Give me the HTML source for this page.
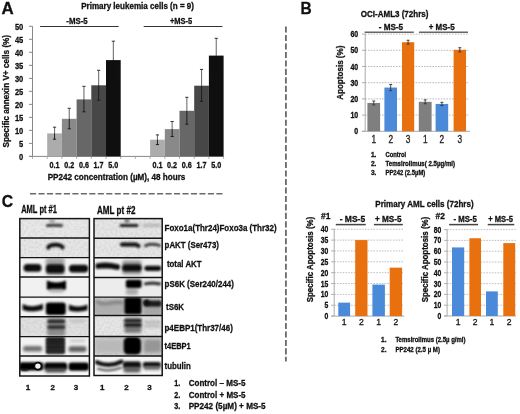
<!DOCTYPE html>
<html><head><meta charset="utf-8"><style>
html,body{margin:0;padding:0;background:#fff;}
svg{display:block;filter:blur(0.3px);}
text{font-family:"Liberation Sans", sans-serif;stroke:#111;stroke-width:0.3px;}
</style></head><body>
<svg width="520" height="414" viewBox="0 0 520 414">
<rect width="520" height="414" fill="#fff"/>
<text x="1.6" y="13.9" font-size="16.8" font-weight="bold" text-anchor="start" fill="#111" textLength="12.2" lengthAdjust="spacingAndGlyphs">A</text>
<text x="81.2" y="9.2" font-size="8.6" font-weight="bold" text-anchor="start" fill="#111" textLength="112.8" lengthAdjust="spacingAndGlyphs">Primary leukemia cells (n = 9)</text>
<text x="66.3" y="24.4" font-size="9.8" font-weight="bold" text-anchor="start" fill="#111" textLength="21.4" lengthAdjust="spacingAndGlyphs">-MS-5</text>
<text x="169.9" y="24.4" font-size="9.8" font-weight="bold" text-anchor="start" fill="#111" textLength="22.3" lengthAdjust="spacingAndGlyphs">+MS-5</text>
<line x1="40.10" y1="26.50" x2="118.60" y2="26.50" stroke="#333" stroke-width="1.1"/>
<line x1="143.70" y1="26.50" x2="222.40" y2="26.50" stroke="#333" stroke-width="1.1"/>
<line x1="32.50" y1="26.30" x2="32.50" y2="156.40" stroke="#888" stroke-width="1"/>
<line x1="29.00" y1="156.40" x2="32.50" y2="156.40" stroke="#888" stroke-width="1"/>
<text x="23.3" y="159.6" font-size="9.4" font-weight="bold" text-anchor="end" fill="#111" textLength="4.2" lengthAdjust="spacingAndGlyphs">0</text>
<line x1="29.00" y1="143.39" x2="32.50" y2="143.39" stroke="#888" stroke-width="1"/>
<text x="23.3" y="146.6" font-size="9.4" font-weight="bold" text-anchor="end" fill="#111" textLength="4.2" lengthAdjust="spacingAndGlyphs">5</text>
<line x1="29.00" y1="130.38" x2="32.50" y2="130.38" stroke="#888" stroke-width="1"/>
<text x="23.3" y="133.6" font-size="9.4" font-weight="bold" text-anchor="end" fill="#111" textLength="8.4" lengthAdjust="spacingAndGlyphs">10</text>
<line x1="29.00" y1="117.37" x2="32.50" y2="117.37" stroke="#888" stroke-width="1"/>
<text x="23.3" y="120.6" font-size="9.4" font-weight="bold" text-anchor="end" fill="#111" textLength="8.4" lengthAdjust="spacingAndGlyphs">15</text>
<line x1="29.00" y1="104.36" x2="32.50" y2="104.36" stroke="#888" stroke-width="1"/>
<text x="23.3" y="107.6" font-size="9.4" font-weight="bold" text-anchor="end" fill="#111" textLength="8.4" lengthAdjust="spacingAndGlyphs">20</text>
<line x1="29.00" y1="91.35" x2="32.50" y2="91.35" stroke="#888" stroke-width="1"/>
<text x="23.3" y="94.6" font-size="9.4" font-weight="bold" text-anchor="end" fill="#111" textLength="8.4" lengthAdjust="spacingAndGlyphs">25</text>
<line x1="29.00" y1="78.34" x2="32.50" y2="78.34" stroke="#888" stroke-width="1"/>
<text x="23.3" y="81.5" font-size="9.4" font-weight="bold" text-anchor="end" fill="#111" textLength="8.4" lengthAdjust="spacingAndGlyphs">30</text>
<line x1="29.00" y1="65.33" x2="32.50" y2="65.33" stroke="#888" stroke-width="1"/>
<text x="23.3" y="68.5" font-size="9.4" font-weight="bold" text-anchor="end" fill="#111" textLength="8.4" lengthAdjust="spacingAndGlyphs">35</text>
<line x1="29.00" y1="52.32" x2="32.50" y2="52.32" stroke="#888" stroke-width="1"/>
<text x="23.3" y="55.5" font-size="9.4" font-weight="bold" text-anchor="end" fill="#111" textLength="8.4" lengthAdjust="spacingAndGlyphs">40</text>
<line x1="29.00" y1="39.31" x2="32.50" y2="39.31" stroke="#888" stroke-width="1"/>
<text x="23.3" y="42.5" font-size="9.4" font-weight="bold" text-anchor="end" fill="#111" textLength="8.4" lengthAdjust="spacingAndGlyphs">45</text>
<line x1="29.00" y1="26.30" x2="32.50" y2="26.30" stroke="#888" stroke-width="1"/>
<text x="23.3" y="29.5" font-size="9.4" font-weight="bold" text-anchor="end" fill="#111" textLength="8.4" lengthAdjust="spacingAndGlyphs">50</text>
<line x1="29.00" y1="156.40" x2="223.60" y2="156.40" stroke="#888" stroke-width="1"/>
<line x1="32.50" y1="156.40" x2="32.50" y2="158.90" stroke="#999" stroke-width="0.8"/>
<line x1="47.20" y1="156.40" x2="47.20" y2="158.90" stroke="#999" stroke-width="0.8"/>
<line x1="61.90" y1="156.40" x2="61.90" y2="158.90" stroke="#999" stroke-width="0.8"/>
<line x1="76.60" y1="156.40" x2="76.60" y2="158.90" stroke="#999" stroke-width="0.8"/>
<line x1="91.30" y1="156.40" x2="91.30" y2="158.90" stroke="#999" stroke-width="0.8"/>
<line x1="106.00" y1="156.40" x2="106.00" y2="158.90" stroke="#999" stroke-width="0.8"/>
<line x1="120.70" y1="156.40" x2="120.70" y2="158.90" stroke="#999" stroke-width="0.8"/>
<line x1="135.40" y1="156.40" x2="135.40" y2="158.90" stroke="#999" stroke-width="0.8"/>
<line x1="150.10" y1="156.40" x2="150.10" y2="158.90" stroke="#999" stroke-width="0.8"/>
<line x1="164.80" y1="156.40" x2="164.80" y2="158.90" stroke="#999" stroke-width="0.8"/>
<line x1="179.50" y1="156.40" x2="179.50" y2="158.90" stroke="#999" stroke-width="0.8"/>
<line x1="194.20" y1="156.40" x2="194.20" y2="158.90" stroke="#999" stroke-width="0.8"/>
<line x1="208.90" y1="156.40" x2="208.90" y2="158.90" stroke="#999" stroke-width="0.8"/>
<line x1="223.60" y1="156.40" x2="223.60" y2="158.90" stroke="#999" stroke-width="0.8"/>
<rect x="47.20" y="133.40" width="14.70" height="23.00" fill="#acacac"/>
<rect x="61.90" y="118.80" width="14.70" height="37.60" fill="#898989"/>
<rect x="76.60" y="99.40" width="14.70" height="57.00" fill="#676767"/>
<rect x="91.30" y="85.30" width="14.70" height="71.10" fill="#474747"/>
<rect x="106.00" y="60.10" width="14.70" height="96.30" fill="#0f0f0f"/>
<line x1="54.55" y1="127.20" x2="54.55" y2="133.40" stroke="#707070" stroke-width="1.1"/>
<line x1="54.55" y1="133.40" x2="54.55" y2="139.20" stroke="#1e1e1e" stroke-width="1.0"/>
<line x1="52.95" y1="127.20" x2="56.15" y2="127.20" stroke="#333" stroke-width="1.0"/>
<line x1="52.95" y1="139.20" x2="56.15" y2="139.20" stroke="#1e1e1e" stroke-width="1.0"/>
<text x="54.6" y="167.6" font-size="8.3" font-weight="bold" text-anchor="middle" fill="#111" textLength="10.0" lengthAdjust="spacingAndGlyphs">0.1</text>
<line x1="69.25" y1="108.30" x2="69.25" y2="118.80" stroke="#707070" stroke-width="1.1"/>
<line x1="69.25" y1="118.80" x2="69.25" y2="128.80" stroke="#1e1e1e" stroke-width="1.0"/>
<line x1="67.65" y1="108.30" x2="70.85" y2="108.30" stroke="#333" stroke-width="1.0"/>
<line x1="67.65" y1="128.80" x2="70.85" y2="128.80" stroke="#1e1e1e" stroke-width="1.0"/>
<text x="69.2" y="167.6" font-size="8.3" font-weight="bold" text-anchor="middle" fill="#111" textLength="10.0" lengthAdjust="spacingAndGlyphs">0.2</text>
<line x1="83.95" y1="86.30" x2="83.95" y2="99.40" stroke="#707070" stroke-width="1.1"/>
<line x1="83.95" y1="99.40" x2="83.95" y2="111.80" stroke="#1e1e1e" stroke-width="1.0"/>
<line x1="82.35" y1="86.30" x2="85.55" y2="86.30" stroke="#333" stroke-width="1.0"/>
<line x1="82.35" y1="111.80" x2="85.55" y2="111.80" stroke="#1e1e1e" stroke-width="1.0"/>
<text x="83.9" y="167.6" font-size="8.3" font-weight="bold" text-anchor="middle" fill="#111" textLength="10.0" lengthAdjust="spacingAndGlyphs">0.6</text>
<line x1="98.65" y1="70.30" x2="98.65" y2="85.30" stroke="#707070" stroke-width="1.1"/>
<line x1="98.65" y1="85.30" x2="98.65" y2="100.30" stroke="#1e1e1e" stroke-width="1.0"/>
<line x1="97.05" y1="70.30" x2="100.25" y2="70.30" stroke="#333" stroke-width="1.0"/>
<line x1="97.05" y1="100.30" x2="100.25" y2="100.30" stroke="#1e1e1e" stroke-width="1.0"/>
<text x="98.6" y="167.6" font-size="8.3" font-weight="bold" text-anchor="middle" fill="#111" textLength="10.0" lengthAdjust="spacingAndGlyphs">1.7</text>
<line x1="113.35" y1="41.20" x2="113.35" y2="60.10" stroke="#707070" stroke-width="1.1"/>
<line x1="113.35" y1="60.10" x2="113.35" y2="79.00" stroke="#0f0f0f" stroke-width="1.0"/>
<line x1="111.75" y1="41.20" x2="114.95" y2="41.20" stroke="#333" stroke-width="1.0"/>
<line x1="111.75" y1="79.00" x2="114.95" y2="79.00" stroke="#0f0f0f" stroke-width="1.0"/>
<text x="113.3" y="167.6" font-size="8.3" font-weight="bold" text-anchor="middle" fill="#111" textLength="10.0" lengthAdjust="spacingAndGlyphs">5.0</text>
<rect x="150.10" y="139.70" width="14.70" height="16.70" fill="#acacac"/>
<rect x="164.80" y="129.10" width="14.70" height="27.30" fill="#898989"/>
<rect x="179.50" y="110.80" width="14.70" height="45.60" fill="#676767"/>
<rect x="194.20" y="85.70" width="14.70" height="70.70" fill="#474747"/>
<rect x="208.90" y="55.60" width="14.70" height="100.80" fill="#0f0f0f"/>
<line x1="157.45" y1="134.90" x2="157.45" y2="139.70" stroke="#707070" stroke-width="1.1"/>
<line x1="157.45" y1="139.70" x2="157.45" y2="144.60" stroke="#1e1e1e" stroke-width="1.0"/>
<line x1="155.85" y1="134.90" x2="159.05" y2="134.90" stroke="#333" stroke-width="1.0"/>
<line x1="155.85" y1="144.60" x2="159.05" y2="144.60" stroke="#1e1e1e" stroke-width="1.0"/>
<text x="157.4" y="167.6" font-size="8.3" font-weight="bold" text-anchor="middle" fill="#111" textLength="10.0" lengthAdjust="spacingAndGlyphs">0.1</text>
<line x1="172.15" y1="121.50" x2="172.15" y2="129.10" stroke="#707070" stroke-width="1.1"/>
<line x1="172.15" y1="129.10" x2="172.15" y2="136.50" stroke="#1e1e1e" stroke-width="1.0"/>
<line x1="170.55" y1="121.50" x2="173.75" y2="121.50" stroke="#333" stroke-width="1.0"/>
<line x1="170.55" y1="136.50" x2="173.75" y2="136.50" stroke="#1e1e1e" stroke-width="1.0"/>
<text x="172.1" y="167.6" font-size="8.3" font-weight="bold" text-anchor="middle" fill="#111" textLength="10.0" lengthAdjust="spacingAndGlyphs">0.2</text>
<line x1="186.85" y1="97.30" x2="186.85" y2="110.80" stroke="#707070" stroke-width="1.1"/>
<line x1="186.85" y1="110.80" x2="186.85" y2="124.20" stroke="#1e1e1e" stroke-width="1.0"/>
<line x1="185.25" y1="97.30" x2="188.45" y2="97.30" stroke="#333" stroke-width="1.0"/>
<line x1="185.25" y1="124.20" x2="188.45" y2="124.20" stroke="#1e1e1e" stroke-width="1.0"/>
<text x="186.8" y="167.6" font-size="8.3" font-weight="bold" text-anchor="middle" fill="#111" textLength="10.0" lengthAdjust="spacingAndGlyphs">0.6</text>
<line x1="201.55" y1="69.40" x2="201.55" y2="85.70" stroke="#707070" stroke-width="1.1"/>
<line x1="201.55" y1="85.70" x2="201.55" y2="101.30" stroke="#1e1e1e" stroke-width="1.0"/>
<line x1="199.95" y1="69.40" x2="203.15" y2="69.40" stroke="#333" stroke-width="1.0"/>
<line x1="199.95" y1="101.30" x2="203.15" y2="101.30" stroke="#1e1e1e" stroke-width="1.0"/>
<text x="201.5" y="167.6" font-size="8.3" font-weight="bold" text-anchor="middle" fill="#111" textLength="10.0" lengthAdjust="spacingAndGlyphs">1.7</text>
<line x1="216.25" y1="38.30" x2="216.25" y2="55.60" stroke="#707070" stroke-width="1.1"/>
<line x1="216.25" y1="55.60" x2="216.25" y2="72.90" stroke="#0f0f0f" stroke-width="1.0"/>
<line x1="214.65" y1="38.30" x2="217.85" y2="38.30" stroke="#333" stroke-width="1.0"/>
<line x1="214.65" y1="72.90" x2="217.85" y2="72.90" stroke="#0f0f0f" stroke-width="1.0"/>
<text x="216.2" y="167.6" font-size="8.3" font-weight="bold" text-anchor="middle" fill="#111" textLength="10.0" lengthAdjust="spacingAndGlyphs">5.0</text>
<text x="47.7" y="179.6" font-size="8.8" font-weight="bold" text-anchor="start" fill="#111" textLength="137.7" lengthAdjust="spacingAndGlyphs">PP242 concentration (µM), 48 hours</text>
<text transform="translate(9.3,147.4) rotate(-90)" x="0" y="0" font-size="9.6" font-weight="bold" fill="#111" textLength="112.5" lengthAdjust="spacingAndGlyphs">Specific  annexin V+ cells (%)</text>
<line x1="285.90" y1="26.50" x2="285.90" y2="361.50" stroke="#6a6a6a" stroke-width="1.8" stroke-dasharray="6.1 2.37"/>
<line x1="30.00" y1="193.80" x2="222.50" y2="193.80" stroke="#6a6a6a" stroke-width="1.5" stroke-dasharray="6.1 2.37"/>
<text x="300.6" y="14.0" font-size="17.4" font-weight="bold" text-anchor="start" fill="#111" textLength="11.2" lengthAdjust="spacingAndGlyphs">B</text>
<text x="360.8" y="17.0" font-size="8.3" font-weight="bold" text-anchor="start" fill="#111" textLength="67.6" lengthAdjust="spacingAndGlyphs">OCI-AML3 (72hrs)</text>
<text x="378.7" y="29.8" font-size="8.6" font-weight="bold" text-anchor="start" fill="#111" textLength="24.4" lengthAdjust="spacingAndGlyphs">- MS-5</text>
<text x="428.7" y="29.8" font-size="8.6" font-weight="bold" text-anchor="start" fill="#111" textLength="25.9" lengthAdjust="spacingAndGlyphs">+ MS-5</text>
<line x1="364.60" y1="32.20" x2="413.80" y2="32.20" stroke="#666" stroke-width="1.6"/>
<line x1="419.00" y1="32.20" x2="468.00" y2="32.20" stroke="#666" stroke-width="1.6"/>
<line x1="365.20" y1="115.10" x2="469.00" y2="115.10" stroke="#aaa" stroke-width="0.8" stroke-dasharray="1.6 1.2"/>
<line x1="365.20" y1="98.90" x2="469.00" y2="98.90" stroke="#aaa" stroke-width="0.8" stroke-dasharray="1.6 1.2"/>
<line x1="365.20" y1="82.70" x2="469.00" y2="82.70" stroke="#aaa" stroke-width="0.8" stroke-dasharray="1.6 1.2"/>
<line x1="365.20" y1="66.50" x2="469.00" y2="66.50" stroke="#aaa" stroke-width="0.8" stroke-dasharray="1.6 1.2"/>
<line x1="365.20" y1="50.30" x2="469.00" y2="50.30" stroke="#aaa" stroke-width="0.8" stroke-dasharray="1.6 1.2"/>
<line x1="365.20" y1="34.10" x2="469.00" y2="34.10" stroke="#aaa" stroke-width="0.8" stroke-dasharray="1.6 1.2"/>
<line x1="362.00" y1="131.30" x2="365.20" y2="131.30" stroke="#999" stroke-width="0.8"/>
<text x="358.2" y="134.3" font-size="8.2" font-weight="bold" text-anchor="end" fill="#111" textLength="3.9" lengthAdjust="spacingAndGlyphs">0</text>
<line x1="362.00" y1="115.10" x2="365.20" y2="115.10" stroke="#999" stroke-width="0.8"/>
<text x="358.2" y="118.1" font-size="8.2" font-weight="bold" text-anchor="end" fill="#111" textLength="7.8" lengthAdjust="spacingAndGlyphs">10</text>
<line x1="362.00" y1="98.90" x2="365.20" y2="98.90" stroke="#999" stroke-width="0.8"/>
<text x="358.2" y="101.9" font-size="8.2" font-weight="bold" text-anchor="end" fill="#111" textLength="7.8" lengthAdjust="spacingAndGlyphs">20</text>
<line x1="362.00" y1="82.70" x2="365.20" y2="82.70" stroke="#999" stroke-width="0.8"/>
<text x="358.2" y="85.7" font-size="8.2" font-weight="bold" text-anchor="end" fill="#111" textLength="7.8" lengthAdjust="spacingAndGlyphs">30</text>
<line x1="362.00" y1="66.50" x2="365.20" y2="66.50" stroke="#999" stroke-width="0.8"/>
<text x="358.2" y="69.5" font-size="8.2" font-weight="bold" text-anchor="end" fill="#111" textLength="7.8" lengthAdjust="spacingAndGlyphs">40</text>
<line x1="362.00" y1="50.30" x2="365.20" y2="50.30" stroke="#999" stroke-width="0.8"/>
<text x="358.2" y="53.3" font-size="8.2" font-weight="bold" text-anchor="end" fill="#111" textLength="7.8" lengthAdjust="spacingAndGlyphs">50</text>
<line x1="362.00" y1="34.10" x2="365.20" y2="34.10" stroke="#999" stroke-width="0.8"/>
<text x="358.2" y="37.1" font-size="8.2" font-weight="bold" text-anchor="end" fill="#111" textLength="7.8" lengthAdjust="spacingAndGlyphs">60</text>
<line x1="365.20" y1="34.00" x2="365.20" y2="131.30" stroke="#aaa" stroke-width="1"/>
<line x1="362.00" y1="131.30" x2="470.00" y2="131.30" stroke="#aaa" stroke-width="1"/>
<rect x="367.40" y="102.95" width="12.70" height="28.35" fill="#7f7f7f"/>
<rect x="384.40" y="87.56" width="12.60" height="43.74" fill="#4a8ad8"/>
<rect x="402.00" y="42.20" width="12.20" height="89.10" fill="#e8700e"/>
<rect x="418.80" y="101.82" width="12.80" height="29.48" fill="#7f7f7f"/>
<rect x="435.60" y="103.92" width="12.60" height="27.38" fill="#4a8ad8"/>
<rect x="453.60" y="49.81" width="12.40" height="81.49" fill="#e8700e"/>
<line x1="373.75" y1="101.01" x2="373.75" y2="104.89" stroke="#333" stroke-width="0.9"/>
<line x1="372.25" y1="101.01" x2="375.25" y2="101.01" stroke="#333" stroke-width="0.9"/>
<line x1="372.25" y1="104.89" x2="375.25" y2="104.89" stroke="#333" stroke-width="0.9"/>
<line x1="390.70" y1="84.48" x2="390.70" y2="90.64" stroke="#333" stroke-width="0.9"/>
<line x1="389.20" y1="84.48" x2="392.20" y2="84.48" stroke="#333" stroke-width="0.9"/>
<line x1="389.20" y1="90.64" x2="392.20" y2="90.64" stroke="#333" stroke-width="0.9"/>
<line x1="408.10" y1="40.26" x2="408.10" y2="44.14" stroke="#333" stroke-width="0.9"/>
<line x1="406.60" y1="40.26" x2="409.60" y2="40.26" stroke="#333" stroke-width="0.9"/>
<line x1="406.60" y1="44.14" x2="409.60" y2="44.14" stroke="#333" stroke-width="0.9"/>
<line x1="425.20" y1="99.87" x2="425.20" y2="103.76" stroke="#333" stroke-width="0.9"/>
<line x1="423.70" y1="99.87" x2="426.70" y2="99.87" stroke="#333" stroke-width="0.9"/>
<line x1="423.70" y1="103.76" x2="426.70" y2="103.76" stroke="#333" stroke-width="0.9"/>
<line x1="441.90" y1="102.30" x2="441.90" y2="105.54" stroke="#333" stroke-width="0.9"/>
<line x1="440.40" y1="102.30" x2="443.40" y2="102.30" stroke="#333" stroke-width="0.9"/>
<line x1="440.40" y1="105.54" x2="443.40" y2="105.54" stroke="#333" stroke-width="0.9"/>
<line x1="459.80" y1="47.71" x2="459.80" y2="51.92" stroke="#333" stroke-width="0.9"/>
<line x1="458.30" y1="47.71" x2="461.30" y2="47.71" stroke="#333" stroke-width="0.9"/>
<line x1="458.30" y1="51.92" x2="461.30" y2="51.92" stroke="#333" stroke-width="0.9"/>
<text x="373.8" y="143.3" font-size="10" font-weight="normal" text-anchor="middle" fill="#2a2a2a" textLength="4.6" lengthAdjust="spacingAndGlyphs" stroke="none">1</text>
<text x="390.7" y="143.3" font-size="10" font-weight="normal" text-anchor="middle" fill="#2a2a2a" textLength="4.6" lengthAdjust="spacingAndGlyphs" stroke="none">2</text>
<text x="408.1" y="143.3" font-size="10" font-weight="normal" text-anchor="middle" fill="#2a2a2a" textLength="4.6" lengthAdjust="spacingAndGlyphs" stroke="none">3</text>
<text x="425.2" y="143.3" font-size="10" font-weight="normal" text-anchor="middle" fill="#2a2a2a" textLength="4.6" lengthAdjust="spacingAndGlyphs" stroke="none">1</text>
<text x="441.9" y="143.3" font-size="10" font-weight="normal" text-anchor="middle" fill="#2a2a2a" textLength="4.6" lengthAdjust="spacingAndGlyphs" stroke="none">2</text>
<text x="459.8" y="143.3" font-size="10" font-weight="normal" text-anchor="middle" fill="#2a2a2a" textLength="4.6" lengthAdjust="spacingAndGlyphs" stroke="none">3</text>
<text transform="translate(343.0,99.8) rotate(-90)" x="0" y="0" font-size="9.6" font-weight="bold" fill="#111" textLength="54.2" lengthAdjust="spacingAndGlyphs">Apoptosis (%)</text>
<text x="370.9" y="157.4" font-size="6.6" font-weight="bold" text-anchor="start" fill="#111" stroke="none">1.</text>
<text x="385.5" y="157.4" font-size="6.6" font-weight="bold" text-anchor="start" fill="#111" textLength="20.6" lengthAdjust="spacingAndGlyphs" stroke="none">Control</text>
<text x="370.9" y="165.9" font-size="6.6" font-weight="bold" text-anchor="start" fill="#111" stroke="none">2.</text>
<text x="385.5" y="165.9" font-size="6.6" font-weight="bold" text-anchor="start" fill="#111" textLength="69.6" lengthAdjust="spacingAndGlyphs" stroke="none">Temsirolimus( 2.5µg/ml)</text>
<text x="370.9" y="174.6" font-size="6.6" font-weight="bold" text-anchor="start" fill="#111" stroke="none">3.</text>
<text x="385.5" y="174.6" font-size="6.6" font-weight="bold" text-anchor="start" fill="#111" textLength="39.8" lengthAdjust="spacingAndGlyphs" stroke="none">PP242 (2.5µM)</text>
<text x="375.3" y="207.3" font-size="8.9" font-weight="bold" text-anchor="start" fill="#111" textLength="98.3" lengthAdjust="spacingAndGlyphs">Primary AML cells (72hrs)</text>
<text x="321.1" y="219.0" font-size="9.6" font-weight="bold" text-anchor="start" fill="#111" textLength="9.4" lengthAdjust="spacingAndGlyphs">#1</text>
<text x="339.7" y="222.3" font-size="8.4" font-weight="bold" text-anchor="start" fill="#111" textLength="25.4" lengthAdjust="spacingAndGlyphs">- MS-5</text>
<text x="375.0" y="222.3" font-size="8.4" font-weight="bold" text-anchor="start" fill="#111" textLength="26.6" lengthAdjust="spacingAndGlyphs">+ MS-5</text>
<line x1="335.80" y1="224.60" x2="365.80" y2="224.60" stroke="#444" stroke-width="1.5"/>
<line x1="373.90" y1="224.60" x2="402.80" y2="224.60" stroke="#444" stroke-width="1.5"/>
<line x1="331.20" y1="316.10" x2="334.20" y2="316.10" stroke="#999" stroke-width="0.8"/>
<text x="328.3" y="319.1" font-size="8.5" font-weight="bold" text-anchor="end" fill="#111" textLength="3.8" lengthAdjust="spacingAndGlyphs">0</text>
<line x1="334.20" y1="305.24" x2="404.20" y2="305.24" stroke="#b0b0b0" stroke-width="0.8" stroke-dasharray="1.6 1.2"/>
<line x1="331.20" y1="305.24" x2="334.20" y2="305.24" stroke="#999" stroke-width="0.8"/>
<text x="328.3" y="308.2" font-size="8.5" font-weight="bold" text-anchor="end" fill="#111" textLength="3.8" lengthAdjust="spacingAndGlyphs">5</text>
<line x1="334.20" y1="294.38" x2="404.20" y2="294.38" stroke="#b0b0b0" stroke-width="0.8" stroke-dasharray="1.6 1.2"/>
<line x1="331.20" y1="294.38" x2="334.20" y2="294.38" stroke="#999" stroke-width="0.8"/>
<text x="328.3" y="297.4" font-size="8.5" font-weight="bold" text-anchor="end" fill="#111" textLength="7.6" lengthAdjust="spacingAndGlyphs">10</text>
<line x1="334.20" y1="283.52" x2="404.20" y2="283.52" stroke="#b0b0b0" stroke-width="0.8" stroke-dasharray="1.6 1.2"/>
<line x1="331.20" y1="283.52" x2="334.20" y2="283.52" stroke="#999" stroke-width="0.8"/>
<text x="328.3" y="286.5" font-size="8.5" font-weight="bold" text-anchor="end" fill="#111" textLength="7.6" lengthAdjust="spacingAndGlyphs">15</text>
<line x1="334.20" y1="272.66" x2="404.20" y2="272.66" stroke="#b0b0b0" stroke-width="0.8" stroke-dasharray="1.6 1.2"/>
<line x1="331.20" y1="272.66" x2="334.20" y2="272.66" stroke="#999" stroke-width="0.8"/>
<text x="328.3" y="275.7" font-size="8.5" font-weight="bold" text-anchor="end" fill="#111" textLength="7.6" lengthAdjust="spacingAndGlyphs">20</text>
<line x1="334.20" y1="261.80" x2="404.20" y2="261.80" stroke="#b0b0b0" stroke-width="0.8" stroke-dasharray="1.6 1.2"/>
<line x1="331.20" y1="261.80" x2="334.20" y2="261.80" stroke="#999" stroke-width="0.8"/>
<text x="328.3" y="264.8" font-size="8.5" font-weight="bold" text-anchor="end" fill="#111" textLength="7.6" lengthAdjust="spacingAndGlyphs">25</text>
<line x1="334.20" y1="250.94" x2="404.20" y2="250.94" stroke="#b0b0b0" stroke-width="0.8" stroke-dasharray="1.6 1.2"/>
<line x1="331.20" y1="250.94" x2="334.20" y2="250.94" stroke="#999" stroke-width="0.8"/>
<text x="328.3" y="253.9" font-size="8.5" font-weight="bold" text-anchor="end" fill="#111" textLength="7.6" lengthAdjust="spacingAndGlyphs">30</text>
<line x1="334.20" y1="240.08" x2="404.20" y2="240.08" stroke="#b0b0b0" stroke-width="0.8" stroke-dasharray="1.6 1.2"/>
<line x1="331.20" y1="240.08" x2="334.20" y2="240.08" stroke="#999" stroke-width="0.8"/>
<text x="328.3" y="243.1" font-size="8.5" font-weight="bold" text-anchor="end" fill="#111" textLength="7.6" lengthAdjust="spacingAndGlyphs">35</text>
<line x1="334.20" y1="229.22" x2="404.20" y2="229.22" stroke="#b0b0b0" stroke-width="0.8" stroke-dasharray="1.6 1.2"/>
<line x1="331.20" y1="229.22" x2="334.20" y2="229.22" stroke="#999" stroke-width="0.8"/>
<text x="328.3" y="232.2" font-size="8.5" font-weight="bold" text-anchor="end" fill="#111" textLength="7.6" lengthAdjust="spacingAndGlyphs">40</text>
<line x1="334.20" y1="229.22" x2="334.20" y2="316.10" stroke="#aaa" stroke-width="1"/>
<line x1="331.20" y1="316.10" x2="404.20" y2="316.10" stroke="#aaa" stroke-width="1"/>
<rect x="338.30" y="302.63" width="11.80" height="13.47" fill="#4a8ad8"/>
<rect x="355.20" y="240.08" width="12.30" height="76.02" fill="#e8700e"/>
<rect x="372.40" y="284.61" width="12.50" height="31.49" fill="#4a8ad8"/>
<rect x="389.70" y="267.66" width="12.40" height="48.44" fill="#e8700e"/>
<text x="344.2" y="325.3" font-size="8.6" font-weight="normal" text-anchor="middle" fill="#222" stroke="none">1</text>
<text x="361.4" y="325.3" font-size="8.6" font-weight="normal" text-anchor="middle" fill="#222" stroke="none">2</text>
<text x="378.6" y="325.3" font-size="8.6" font-weight="normal" text-anchor="middle" fill="#222" stroke="none">1</text>
<text x="395.9" y="325.3" font-size="8.6" font-weight="normal" text-anchor="middle" fill="#222" stroke="none">2</text>
<text transform="translate(312.8,302.3) rotate(-90)" x="0" y="0" font-size="9.2" font-weight="bold" fill="#111" textLength="85.5" lengthAdjust="spacingAndGlyphs">Specific Apoptosis (%)</text>
<text x="435.5" y="219.0" font-size="9.6" font-weight="bold" text-anchor="start" fill="#111" textLength="9.4" lengthAdjust="spacingAndGlyphs">#2</text>
<text x="453.5" y="222.3" font-size="8.4" font-weight="bold" text-anchor="start" fill="#111" textLength="23.2" lengthAdjust="spacingAndGlyphs">- MS-5</text>
<text x="488.3" y="222.3" font-size="8.4" font-weight="bold" text-anchor="start" fill="#111" textLength="24.6" lengthAdjust="spacingAndGlyphs">+ MS-5</text>
<line x1="449.10" y1="224.60" x2="478.10" y2="224.60" stroke="#444" stroke-width="1.5"/>
<line x1="487.70" y1="224.60" x2="514.30" y2="224.60" stroke="#444" stroke-width="1.5"/>
<line x1="444.10" y1="316.00" x2="447.10" y2="316.00" stroke="#999" stroke-width="0.8"/>
<text x="441.3" y="319.0" font-size="8.5" font-weight="bold" text-anchor="end" fill="#111" textLength="3.8" lengthAdjust="spacingAndGlyphs">0</text>
<line x1="447.10" y1="305.20" x2="516.00" y2="305.20" stroke="#b0b0b0" stroke-width="0.8" stroke-dasharray="1.6 1.2"/>
<line x1="444.10" y1="305.20" x2="447.10" y2="305.20" stroke="#999" stroke-width="0.8"/>
<text x="441.3" y="308.2" font-size="8.5" font-weight="bold" text-anchor="end" fill="#111" textLength="7.6" lengthAdjust="spacingAndGlyphs">10</text>
<line x1="447.10" y1="294.40" x2="516.00" y2="294.40" stroke="#b0b0b0" stroke-width="0.8" stroke-dasharray="1.6 1.2"/>
<line x1="444.10" y1="294.40" x2="447.10" y2="294.40" stroke="#999" stroke-width="0.8"/>
<text x="441.3" y="297.4" font-size="8.5" font-weight="bold" text-anchor="end" fill="#111" textLength="7.6" lengthAdjust="spacingAndGlyphs">20</text>
<line x1="447.10" y1="283.60" x2="516.00" y2="283.60" stroke="#b0b0b0" stroke-width="0.8" stroke-dasharray="1.6 1.2"/>
<line x1="444.10" y1="283.60" x2="447.10" y2="283.60" stroke="#999" stroke-width="0.8"/>
<text x="441.3" y="286.6" font-size="8.5" font-weight="bold" text-anchor="end" fill="#111" textLength="7.6" lengthAdjust="spacingAndGlyphs">30</text>
<line x1="447.10" y1="272.80" x2="516.00" y2="272.80" stroke="#b0b0b0" stroke-width="0.8" stroke-dasharray="1.6 1.2"/>
<line x1="444.10" y1="272.80" x2="447.10" y2="272.80" stroke="#999" stroke-width="0.8"/>
<text x="441.3" y="275.8" font-size="8.5" font-weight="bold" text-anchor="end" fill="#111" textLength="7.6" lengthAdjust="spacingAndGlyphs">40</text>
<line x1="447.10" y1="262.00" x2="516.00" y2="262.00" stroke="#b0b0b0" stroke-width="0.8" stroke-dasharray="1.6 1.2"/>
<line x1="444.10" y1="262.00" x2="447.10" y2="262.00" stroke="#999" stroke-width="0.8"/>
<text x="441.3" y="265.0" font-size="8.5" font-weight="bold" text-anchor="end" fill="#111" textLength="7.6" lengthAdjust="spacingAndGlyphs">50</text>
<line x1="447.10" y1="251.20" x2="516.00" y2="251.20" stroke="#b0b0b0" stroke-width="0.8" stroke-dasharray="1.6 1.2"/>
<line x1="444.10" y1="251.20" x2="447.10" y2="251.20" stroke="#999" stroke-width="0.8"/>
<text x="441.3" y="254.2" font-size="8.5" font-weight="bold" text-anchor="end" fill="#111" textLength="7.6" lengthAdjust="spacingAndGlyphs">60</text>
<line x1="447.10" y1="240.40" x2="516.00" y2="240.40" stroke="#b0b0b0" stroke-width="0.8" stroke-dasharray="1.6 1.2"/>
<line x1="444.10" y1="240.40" x2="447.10" y2="240.40" stroke="#999" stroke-width="0.8"/>
<text x="441.3" y="243.4" font-size="8.5" font-weight="bold" text-anchor="end" fill="#111" textLength="7.6" lengthAdjust="spacingAndGlyphs">70</text>
<line x1="447.10" y1="229.60" x2="516.00" y2="229.60" stroke="#b0b0b0" stroke-width="0.8" stroke-dasharray="1.6 1.2"/>
<line x1="444.10" y1="229.60" x2="447.10" y2="229.60" stroke="#999" stroke-width="0.8"/>
<text x="441.3" y="232.6" font-size="8.5" font-weight="bold" text-anchor="end" fill="#111" textLength="7.6" lengthAdjust="spacingAndGlyphs">80</text>
<line x1="447.10" y1="229.60" x2="447.10" y2="316.00" stroke="#aaa" stroke-width="1"/>
<line x1="444.10" y1="316.00" x2="516.00" y2="316.00" stroke="#aaa" stroke-width="1"/>
<rect x="452.00" y="247.42" width="12.20" height="68.58" fill="#4a8ad8"/>
<rect x="469.40" y="238.24" width="11.60" height="77.76" fill="#e8700e"/>
<rect x="486.00" y="291.38" width="11.80" height="24.62" fill="#4a8ad8"/>
<rect x="503.30" y="243.10" width="11.90" height="72.90" fill="#e8700e"/>
<text x="458.1" y="325.3" font-size="8.6" font-weight="normal" text-anchor="middle" fill="#222" stroke="none">1</text>
<text x="475.2" y="325.3" font-size="8.6" font-weight="normal" text-anchor="middle" fill="#222" stroke="none">2</text>
<text x="491.9" y="325.3" font-size="8.6" font-weight="normal" text-anchor="middle" fill="#222" stroke="none">1</text>
<text x="509.2" y="325.3" font-size="8.6" font-weight="normal" text-anchor="middle" fill="#222" stroke="none">2</text>
<text transform="translate(427.8,302.3) rotate(-90)" x="0" y="0" font-size="9.2" font-weight="bold" fill="#111" textLength="85.5" lengthAdjust="spacingAndGlyphs">Specific Apoptosis (%)</text>
<text x="381.1" y="342.3" font-size="6.5" font-weight="bold" text-anchor="start" fill="#111" stroke="none">1.</text>
<text x="395.4" y="342.3" font-size="6.5" font-weight="bold" text-anchor="start" fill="#111" textLength="70.1" lengthAdjust="spacingAndGlyphs" stroke="none">Temsirolimus (2.5µ g/ml)</text>
<text x="381.1" y="351.5" font-size="6.5" font-weight="bold" text-anchor="start" fill="#111" stroke="none">2.</text>
<text x="395.4" y="351.5" font-size="6.5" font-weight="bold" text-anchor="start" fill="#111" textLength="44.6" lengthAdjust="spacingAndGlyphs" stroke="none">PP242 (2.5 µ M)</text>
<text x="1.7" y="206.6" font-size="16.6" font-weight="bold" text-anchor="start" fill="#111" textLength="11.4" lengthAdjust="spacingAndGlyphs">C</text>
<text x="21.2" y="213.2" font-size="10.1" font-weight="bold" text-anchor="start" fill="#111" textLength="35.7" lengthAdjust="spacingAndGlyphs">AML pt #1</text>
<text x="97.0" y="213.6" font-size="10.1" font-weight="bold" text-anchor="start" fill="#111" textLength="38.4" lengthAdjust="spacingAndGlyphs">AML pt #2</text>
<g id="blots"><defs><filter id="b1" filterUnits="userSpaceOnUse" x="0" y="180" width="200" height="220"><feGaussianBlur stdDeviation="1.0"/></filter><filter id="b2" filterUnits="userSpaceOnUse" x="0" y="180" width="200" height="220"><feGaussianBlur stdDeviation="1.6"/></filter><filter id="b3" filterUnits="userSpaceOnUse" x="0" y="180" width="200" height="220"><feGaussianBlur stdDeviation="0.6"/></filter><filter id="noise" x="0" y="0" width="100%" height="100%"><feTurbulence type="fractalNoise" baseFrequency="0.45" numOctaves="1" seed="3"/><feColorMatrix type="matrix" values="0 0 0 0 0  0 0 0 0 0  0 0 0 0 0  0 0 0 0.9 -0.35"/></filter></defs>
<clipPath id="c00"><rect x="19.8" y="218.6" width="69.6" height="19.4"/></clipPath>
<rect x="19.8" y="218.6" width="69.6" height="19.4" fill="#e8e8e8"/>
<rect x="19.8" y="218.6" width="69.6" height="19.4" filter="url(#noise)" opacity="0.18"/>
<clipPath id="c01"><rect x="19.8" y="238.0" width="69.6" height="19.6"/></clipPath>
<rect x="19.8" y="238.0" width="69.6" height="19.6" fill="#e6e6e6"/>
<rect x="19.8" y="238.0" width="69.6" height="19.6" filter="url(#noise)" opacity="0.18"/>
<clipPath id="c02"><rect x="19.8" y="257.6" width="69.6" height="19.4"/></clipPath>
<rect x="19.8" y="257.6" width="69.6" height="19.4" fill="#f2f2f2"/>
<clipPath id="c03"><rect x="19.8" y="277.0" width="69.6" height="20.1"/></clipPath>
<rect x="19.8" y="277.0" width="69.6" height="20.1" fill="#f1f1f1"/>
<clipPath id="c04"><rect x="19.8" y="297.1" width="69.6" height="19.6"/></clipPath>
<rect x="19.8" y="297.1" width="69.6" height="19.6" fill="#f3f3f3"/>
<clipPath id="c05"><rect x="19.8" y="316.7" width="69.6" height="19.9"/></clipPath>
<rect x="19.8" y="316.7" width="69.6" height="19.9" fill="#e0e0e0"/>
<rect x="19.8" y="316.7" width="69.6" height="19.9" filter="url(#noise)" opacity="0.18"/>
<clipPath id="c06"><rect x="19.8" y="336.6" width="69.6" height="19.4"/></clipPath>
<rect x="19.8" y="336.6" width="69.6" height="19.4" fill="#f2f2f2"/>
<clipPath id="c07"><rect x="19.8" y="356.0" width="69.6" height="20.0"/></clipPath>
<rect x="19.8" y="356.0" width="69.6" height="20.0" fill="#f7f7f7"/>
<clipPath id="c10"><rect x="94.0" y="218.6" width="68.2" height="19.6"/></clipPath>
<rect x="94.0" y="218.6" width="68.2" height="19.6" fill="#e5e5e5"/>
<rect x="94.0" y="218.6" width="68.2" height="19.6" filter="url(#noise)" opacity="0.18"/>
<clipPath id="c11"><rect x="94.0" y="238.2" width="68.2" height="19.5"/></clipPath>
<rect x="94.0" y="238.2" width="68.2" height="19.5" fill="#e6e6e6"/>
<rect x="94.0" y="238.2" width="68.2" height="19.5" filter="url(#noise)" opacity="0.18"/>
<clipPath id="c12"><rect x="94.0" y="257.7" width="68.2" height="19.8"/></clipPath>
<rect x="94.0" y="257.7" width="68.2" height="19.8" fill="#f0f0f0"/>
<clipPath id="c13"><rect x="94.0" y="277.5" width="68.2" height="19.6"/></clipPath>
<rect x="94.0" y="277.5" width="68.2" height="19.6" fill="#ececec"/>
<clipPath id="c14"><rect x="94.0" y="297.1" width="68.2" height="18.4"/></clipPath>
<rect x="94.0" y="297.1" width="68.2" height="18.4" fill="#c9c9c9"/>
<rect x="94.0" y="297.1" width="68.2" height="18.4" filter="url(#noise)" opacity="0.18"/>
<clipPath id="c15"><rect x="94.0" y="315.5" width="68.2" height="21.0"/></clipPath>
<rect x="94.0" y="315.5" width="68.2" height="21.0" fill="#e6e6e6"/>
<rect x="94.0" y="315.5" width="68.2" height="21.0" filter="url(#noise)" opacity="0.18"/>
<clipPath id="c16"><rect x="94.0" y="336.5" width="68.2" height="19.5"/></clipPath>
<rect x="94.0" y="336.5" width="68.2" height="19.5" fill="#cbcbcb"/>
<rect x="94.0" y="336.5" width="68.2" height="19.5" filter="url(#noise)" opacity="0.18"/>
<clipPath id="c17"><rect x="94.0" y="356.0" width="68.2" height="19.5"/></clipPath>
<rect x="94.0" y="356.0" width="68.2" height="19.5" fill="#f6f6f6"/>
<g clip-path="url(#c00)"><ellipse cx="52" cy="221" rx="3" ry="1.8" fill="#a0a0a0" filter="url(#b1)" opacity="1"/><path d="M47.5 225.6 Q54.5 224.8 61.5 225.6" fill="none" stroke="#3a3a3a" stroke-width="3.0" stroke-linecap="round" filter="url(#b1)" opacity="1"/></g>
<g clip-path="url(#c01)"><path d="M48.2 247.6 C49.2 245.2 51.6 244.7 55.4 244.7 C59.2 244.7 61.6 245.2 62.6 247.4" fill="none" stroke="#101010" stroke-width="4.0" stroke-linecap="round" filter="url(#b1)" opacity="1"/></g>
<g clip-path="url(#c02)"><rect x="45.7" y="258.2" width="19.0" height="8" rx="2" fill="#a2a2a2" filter="url(#b2)" opacity="1"/><rect x="46" y="271" width="19" height="4" rx="2" fill="#9a9a9a" filter="url(#b2)" opacity="1"/><rect x="23.6" y="264.0" width="17.8" height="7.8" rx="3.6" fill="#0b0b0b" filter="url(#b1)" opacity="1"/><rect x="45.7" y="264.2" width="19.0" height="9.0" rx="3.8" fill="#080808" filter="url(#b1)" opacity="1"/><rect x="68.9" y="264.8" width="19.4" height="7.6" rx="3.6" fill="#0b0b0b" filter="url(#b1)" opacity="1"/></g>
<g clip-path="url(#c03)"><path d="M46.8 280.4 Q56.5 284.6 66.0 280.4 L66.0 289.2 Q56.5 293.0 46.8 289.2 Z" fill="#050505" filter="url(#b1)" opacity="1"/><rect x="49" y="289" width="15" height="4" rx="2" fill="#c4c4c4" filter="url(#b2)" opacity="1"/></g>
<g clip-path="url(#c04)"><path d="M22.6 304.0 Q32.5 308.6 43.0 303.8 L43.0 309.8 Q32.5 313.2 22.6 310.0 Z" fill="#111" filter="url(#b1)" opacity="1"/><rect x="45.8" y="302.6" width="20" height="12.4" rx="3" fill="#060606" filter="url(#b1)" opacity="1"/><path d="M68.8 304.6 Q78 308.4 87.6 304.6 L87.6 310.2 Q78 313.0 68.8 310.4 Z" fill="#111" filter="url(#b1)" opacity="1"/></g>
<g clip-path="url(#c05)"><rect x="47.2" y="318" width="18" height="18" rx="2" fill="#8a8a8a" filter="url(#b2)" opacity="1"/><rect x="47.5" y="319.8" width="17.5" height="3.2" rx="1.5" fill="#262626" filter="url(#b1)" opacity="1"/><rect x="47.5" y="325.6" width="17.5" height="3.2" rx="1.5" fill="#262626" filter="url(#b1)" opacity="1"/><rect x="70" y="320" width="15" height="2.5" rx="1.5" fill="#bbb" filter="url(#b2)" opacity="1"/></g>
<g clip-path="url(#c06)"><rect x="23" y="346.0" width="19.2" height="5.6" rx="2.5" fill="#6e6e6e" filter="url(#b2)" opacity="1"/><rect x="45.8" y="337.0" width="19.2" height="17.2" rx="2" fill="#2e2e2e" filter="url(#b1)" opacity="1"/><rect x="46.5" y="338.6" width="18" height="2" rx="1" fill="#161616" filter="url(#b1)" opacity="1"/><rect x="46.5" y="342.4" width="18" height="1.8" rx="1" fill="#1a1a1a" filter="url(#b1)" opacity="1"/><rect x="46.5" y="346.2" width="18" height="1.8" rx="1" fill="#1e1e1e" filter="url(#b1)" opacity="1"/><rect x="46.5" y="350.0" width="18" height="1.8" rx="1" fill="#222" filter="url(#b1)" opacity="1"/><rect x="68.5" y="346.3" width="18" height="5.6" rx="2.5" fill="#5e5e5e" filter="url(#b2)" opacity="1"/><rect x="69.5" y="339.5" width="16" height="2.5" rx="1" fill="#c0c0c0" filter="url(#b2)" opacity="1"/></g>
<g clip-path="url(#c07)"><rect x="19.0" y="362.2" width="24.6" height="8.4" rx="3" fill="#060606" filter="url(#b1)" opacity="1"/><ellipse cx="24.5" cy="369.0" rx="4.5" ry="1.8" fill="#070707" filter="url(#b1)" opacity="1"/><circle cx="37.9" cy="366.1" r="3.5" fill="#f2f2f2" stroke="#080808" stroke-width="1.6" filter="url(#b3)"/><rect x="44.3" y="362.5" width="22.8" height="7.4" rx="2.5" fill="#060606" filter="url(#b1)" opacity="1"/><rect x="45" y="368" width="21" height="4.5" rx="2" fill="#4a4a4a" filter="url(#b2)" opacity="1"/><rect x="68.5" y="362.6" width="20.4" height="8.2" rx="3" fill="#060606" filter="url(#b1)" opacity="1"/></g>
<g clip-path="url(#c10)"><rect x="124.5" y="218.6" width="5" height="4.5" rx="1.5" fill="#808080" filter="url(#b1)" opacity="1"/><path d="M121 225.6 L137 225.4" fill="none" stroke="#1c1c1c" stroke-width="3.0" stroke-linecap="round" filter="url(#b1)" opacity="1"/><path d="M143.5 225.4 L159.5 225.2" fill="none" stroke="#a5a5a5" stroke-width="2.4" stroke-linecap="round" filter="url(#b2)" opacity="1"/></g>
<g clip-path="url(#c11)"><path d="M122 244.6 L136 244.6 Q138 245 138.5 246" fill="none" stroke="#0a0a0a" stroke-width="4.0" stroke-linecap="round" filter="url(#b1)" opacity="1"/><path d="M145.5 245.6 Q151 243.2 159.5 245.4" fill="none" stroke="#3c3c3c" stroke-width="3.0" stroke-linecap="round" filter="url(#b1)" opacity="1"/></g>
<g clip-path="url(#c12)"><path d="M98.2 266.0 Q108 264.6 117.2 267.0" fill="none" stroke="#0c0c0c" stroke-width="5.8" stroke-linecap="round" filter="url(#b1)" opacity="1"/><rect x="122.3" y="260.5" width="19.2" height="14" rx="2" fill="#959595" filter="url(#b2)" opacity="1"/><rect x="122.3" y="264.6" width="19.2" height="6.6" rx="2.8" fill="#0a0a0a" filter="url(#b1)" opacity="1"/><rect x="144.3" y="265.8" width="17" height="5.2" rx="2.4" fill="#0e0e0e" filter="url(#b1)" opacity="1"/></g>
<g clip-path="url(#c13)"><rect x="126" y="288" width="12" height="7" rx="2" fill="#aaa" filter="url(#b2)" opacity="1"/><rect x="125.8" y="279.8" width="15.8" height="8.2" rx="2" fill="#060606" filter="url(#b1)" opacity="1"/><path d="M145.5 283.8 Q152 282.5 159.5 283.8" fill="none" stroke="#333" stroke-width="3.2" stroke-linecap="round" filter="url(#b1)" opacity="1"/></g>
<g clip-path="url(#c14)"><rect x="94" y="300" width="30" height="15" rx="2" fill="#aeaeae" filter="url(#b2)" opacity="1"/><path d="M97 301.8 Q103 305 110 303.2 Q116 301.8 122 302.5" fill="none" stroke="#7e7e7e" stroke-width="2.8" stroke-linecap="round" filter="url(#b2)" opacity="1"/><rect x="124.4" y="297.3" width="17.2" height="17" rx="2.5" fill="#050505" filter="url(#b1)" opacity="1"/><rect x="143.6" y="306" width="18" height="9" rx="2" fill="#a5a5a5" filter="url(#b2)" opacity="1"/><rect x="143.6" y="300.5" width="18" height="6.2" rx="2" fill="#1c1c1c" filter="url(#b1)" opacity="1"/><ellipse cx="146.5" cy="302.5" rx="3" ry="3" fill="#080808" filter="url(#b1)" opacity="1"/></g>
<g clip-path="url(#c15)"><rect x="124.4" y="318" width="17" height="15" rx="2" fill="#777" filter="url(#b2)" opacity="1"/><rect x="124.4" y="319.3" width="17" height="2.8" rx="1.2" fill="#1c1c1c" filter="url(#b1)" opacity="1"/><rect x="124.4" y="323.6" width="17" height="2.8" rx="1.2" fill="#111" filter="url(#b1)" opacity="1"/><rect x="144" y="321" width="17" height="2.2" rx="1" fill="#a8a8a8" filter="url(#b2)" opacity="1"/><rect x="144" y="325" width="17" height="2.2" rx="1" fill="#b0b0b0" filter="url(#b2)" opacity="1"/></g>
<g clip-path="url(#c16)"><rect x="96" y="340" width="26" height="12" rx="3" fill="#b9b9b9" filter="url(#b2)" opacity="1"/><rect x="144" y="339.5" width="17" height="13" rx="3" fill="#969696" filter="url(#b2)" opacity="1"/><rect x="123.6" y="337.0" width="17.4" height="17.6" rx="5" fill="#040404" filter="url(#b1)" opacity="1"/></g>
<g clip-path="url(#c17)"><path d="M97 362.3 Q109 368.0 121.5 361.6" fill="none" stroke="#0c0c0c" stroke-width="4.2" stroke-linecap="round" filter="url(#b1)" opacity="1"/><path d="M98 368.8 Q109 372.2 121 367.8" fill="none" stroke="#5a5a5a" stroke-width="2.2" stroke-linecap="round" filter="url(#b1)" opacity="1"/><rect x="123" y="361.5" width="17.8" height="7.0" rx="2" fill="#080808" filter="url(#b1)" opacity="1"/><rect x="123.5" y="367" width="17" height="5.5" rx="2" fill="#5a5a5a" filter="url(#b2)" opacity="1"/><rect x="142.9" y="361.9" width="17.8" height="5.6" rx="2" fill="#080808" filter="url(#b1)" opacity="1"/><rect x="143.5" y="366" width="17" height="3.8" rx="2" fill="#666" filter="url(#b2)" opacity="1"/></g>
<line x1="19.8" y1="238.0" x2="89.4" y2="238.0" stroke="#141414" stroke-width="1.4"/>
<line x1="19.8" y1="257.6" x2="89.4" y2="257.6" stroke="#141414" stroke-width="1.4"/>
<line x1="19.8" y1="277.0" x2="89.4" y2="277.0" stroke="#141414" stroke-width="1.4"/>
<line x1="19.8" y1="297.1" x2="89.4" y2="297.1" stroke="#141414" stroke-width="1.4"/>
<line x1="19.8" y1="316.7" x2="89.4" y2="316.7" stroke="#141414" stroke-width="1.4"/>
<line x1="19.8" y1="336.6" x2="89.4" y2="336.6" stroke="#141414" stroke-width="1.4"/>
<line x1="19.8" y1="356.0" x2="89.4" y2="356.0" stroke="#141414" stroke-width="1.4"/>
<rect x="19.8" y="218.6" width="69.6" height="157.4" fill="none" stroke="#141414" stroke-width="1.5"/>
<line x1="94.0" y1="238.2" x2="162.2" y2="238.2" stroke="#141414" stroke-width="1.4"/>
<line x1="94.0" y1="257.7" x2="162.2" y2="257.7" stroke="#141414" stroke-width="1.4"/>
<line x1="94.0" y1="277.5" x2="162.2" y2="277.5" stroke="#141414" stroke-width="1.4"/>
<line x1="94.0" y1="297.1" x2="162.2" y2="297.1" stroke="#141414" stroke-width="1.4"/>
<line x1="94.0" y1="315.5" x2="162.2" y2="315.5" stroke="#141414" stroke-width="1.4"/>
<line x1="94.0" y1="336.5" x2="162.2" y2="336.5" stroke="#141414" stroke-width="1.4"/>
<line x1="94.0" y1="356.0" x2="162.2" y2="356.0" stroke="#141414" stroke-width="1.4"/>
<rect x="94.0" y="218.6" width="68.2" height="156.9" fill="none" stroke="#141414" stroke-width="1.5"/></g>
<text x="164.6" y="231.0" font-size="9.6" font-weight="bold" text-anchor="start" fill="#111" textLength="112.0" lengthAdjust="spacingAndGlyphs">Foxo1a(Thr24)Foxo3a (Thr32)</text>
<text x="164.6" y="247.6" font-size="9.6" font-weight="bold" text-anchor="start" fill="#111" textLength="54.3" lengthAdjust="spacingAndGlyphs">pAKT (Ser473)</text>
<text x="166.9" y="267.2" font-size="9.6" font-weight="bold" text-anchor="start" fill="#111" textLength="34.7" lengthAdjust="spacingAndGlyphs">total AKT</text>
<text x="164.6" y="286.8" font-size="9.6" font-weight="bold" text-anchor="start" fill="#111" textLength="69.3" lengthAdjust="spacingAndGlyphs">pS6K (Ser240/244)</text>
<text x="166.0" y="310.3" font-size="9.6" font-weight="bold" text-anchor="start" fill="#111" textLength="18.0" lengthAdjust="spacingAndGlyphs">tS6K</text>
<text x="164.5" y="331.0" font-size="9.6" font-weight="bold" text-anchor="start" fill="#111" textLength="68.3" lengthAdjust="spacingAndGlyphs">p4EBP1(Thr37/46)</text>
<text x="164.5" y="348.9" font-size="9.6" font-weight="bold" text-anchor="start" fill="#111" textLength="26.3" lengthAdjust="spacingAndGlyphs">t4EBP1</text>
<text x="164.5" y="368.5" font-size="9.6" font-weight="bold" text-anchor="start" fill="#111" textLength="26.3" lengthAdjust="spacingAndGlyphs">tubulin</text>
<text x="28.1" y="390.3" font-size="8" font-weight="bold" text-anchor="middle" fill="#111">1</text>
<text x="52.7" y="390.3" font-size="8" font-weight="bold" text-anchor="middle" fill="#111">2</text>
<text x="75.9" y="390.3" font-size="8" font-weight="bold" text-anchor="middle" fill="#111">3</text>
<text x="102.2" y="390.3" font-size="8" font-weight="bold" text-anchor="middle" fill="#111">1</text>
<text x="126.6" y="390.3" font-size="8" font-weight="bold" text-anchor="middle" fill="#111">2</text>
<text x="149.5" y="390.3" font-size="8" font-weight="bold" text-anchor="middle" fill="#111">3</text>
<text x="174.2" y="385.8" font-size="9.2" font-weight="bold" text-anchor="start" fill="#111" textLength="6.0" lengthAdjust="spacingAndGlyphs">1.</text>
<text x="188.7" y="385.8" font-size="9.2" font-weight="bold" text-anchor="start" fill="#111" textLength="56.7" lengthAdjust="spacingAndGlyphs">Control – MS-5</text>
<text x="174.2" y="397.5" font-size="9.2" font-weight="bold" text-anchor="start" fill="#111" textLength="6.0" lengthAdjust="spacingAndGlyphs">2.</text>
<text x="188.7" y="397.5" font-size="9.2" font-weight="bold" text-anchor="start" fill="#111" textLength="56.9" lengthAdjust="spacingAndGlyphs">Control + MS-5</text>
<text x="174.2" y="409.4" font-size="9.2" font-weight="bold" text-anchor="start" fill="#111" textLength="6.0" lengthAdjust="spacingAndGlyphs">3.</text>
<text x="188.7" y="409.4" font-size="9.2" font-weight="bold" text-anchor="start" fill="#111" textLength="76.9" lengthAdjust="spacingAndGlyphs">PP242 (5µM) + MS-5</text>
</svg>
</body></html>
